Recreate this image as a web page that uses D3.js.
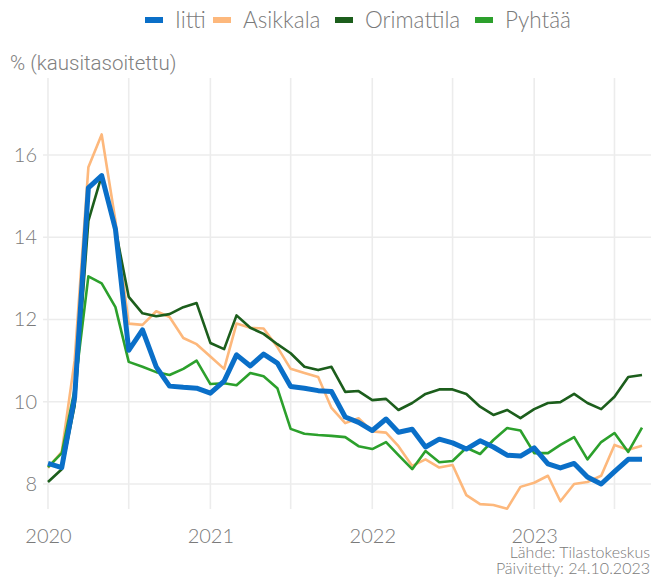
<!DOCTYPE html>
<html>
<head>
<meta charset="utf-8">
<script src="https://cdn.jsdelivr.net/npm/d3@7"></script>
<style>
  body { margin: 0; background: #fff; }
  svg { display: block; }
</style>
</head>
<body>
<div id="chart"></div>
<script>
// monthly, Jan 2020 .. Sep 2023
const months = d3.range(45).map(i => new Date(2020, i, 1));

const iitti = [8.5, 8.4, 10.1, 15.2, 15.5, 14.2, 11.25, 11.75, 10.85, 10.38, 10.35, 10.33, 10.21, 10.5, 11.14, 10.87,
  11.16, 10.94, 10.37, 10.33, 10.27, 10.25, 9.63, 9.5, 9.3, 9.58, 9.26, 9.33, 8.9, 9.09, 9.0, 8.85,
  9.05, 8.9, 8.7, 8.68, 8.88, 8.49, 8.39, 8.5, 8.17, 8.0, 8.3, 8.6, 8.6];
const asikkala = [8.39, 8.78, 11.0, 15.7, 16.5, 14.4, 11.9, 11.87, 12.2, 12.06, 11.55, 11.4, 11.1, 10.8, 11.9, 11.8,
  11.78, 11.33, 10.8, 10.7, 10.6, 9.85, 9.48, 9.6, 9.28, 9.25, 8.92, 8.44, 8.6, 8.4, 8.46, 7.73,
  7.51, 7.49, 7.4, 7.93, 8.03, 8.2, 7.58, 8.0, 8.05, 8.2, 8.95, 8.83, 8.93];
const orimattila = [8.05, 8.36, 9.9, 14.4, 15.5, 14.2, 12.55, 12.15, 12.08, 12.13, 12.3, 12.4, 11.43, 11.28, 12.1, 11.8,
  11.65, 11.4, 11.18, 10.85, 10.77, 10.85, 10.24, 10.26, 10.04, 10.07, 9.8, 9.97, 10.19, 10.3, 10.3, 10.19,
  9.88, 9.68, 9.8, 9.6, 9.82, 9.97, 9.99, 10.19, 9.97, 9.82, 10.12, 10.6, 10.65];
const pyhtaa = [8.41, 8.75, 10.3, 13.05, 12.88, 12.3, 10.97, 10.85, 10.72, 10.65, 10.8, 11.0, 10.43, 10.45, 10.4, 10.7,
  10.62, 10.33, 9.34, 9.22, 9.19, 9.17, 9.14, 8.92, 8.85, 9.02, 8.7, 8.36, 8.8, 8.53, 8.56, 8.88,
  8.73, 9.07, 9.36, 9.3, 8.75, 8.75, 8.95, 9.14, 8.6, 9.02, 9.24, 8.78, 9.37];

const seriesNames = ["Iitti", "Asikkala", "Orimattila", "Pyhtää"];
const seriesValues = [iitti, asikkala, orimattila, pyhtaa];
const colors = ["#0a6fc8", "#fdb87c", "#1c5e1c", "#2ca02c"];
const widths = [5, 2.6, 2.6, 2.6];

const yTicks = [8, 10, 12, 14, 16];
const xTickYears = [2020, 2021, 2022, 2023];

const W = 651, H = 578;
const margin = { top: 78, right: 9, bottom: 69, left: 48 };

const svg = d3.select("#chart").append("svg")
  .attr("width", W).attr("height", H)
  .style("font-family", "Lato, 'Open Sans', sans-serif");

const x = d3.scaleTime()
  .domain([months[0], months[months.length - 1]])
  .range([margin.left, W - margin.right]);

const y = d3.scaleLinear()
  .domain([8, 16])
  .range([484, 155]);

// gridlines
const grid = svg.append("g");
const halfYears = d3.timeMonth.every(6).range(new Date(2020, 0, 1), new Date(2024, 0, 1));
grid.selectAll("line.v").data(halfYears).enter().append("line")
  .attr("x1", d => x(d)).attr("x2", d => x(d))
  .attr("y1", margin.top).attr("y2", H - margin.bottom)
  .attr("stroke", "#ececec").attr("stroke-width", 1.6);
grid.selectAll("line.h").data(yTicks).enter().append("line")
  .attr("x1", 43).attr("x2", W)
  .attr("y1", d => y(d)).attr("y2", d => y(d))
  .attr("stroke", "#ececec").attr("stroke-width", 1.6);

// y axis labels
const yAxis = d3.axisLeft(y).tickValues(yTicks).tickSize(0).tickPadding(0);
svg.append("g")
  .attr("transform", "translate(37,0)")
  .call(yAxis)
  .call(g => g.select(".domain").remove())
  .selectAll("text")
  .attr("fill", "#7a7a7a")
  .attr("font-size", 20)
  .attr("font-weight", 300)
  .attr("font-family", "Lato, sans-serif");

// x axis labels
const xAxis = d3.axisBottom(x)
  .tickValues(xTickYears.map(yr => new Date(yr, 0, 1)))
  .tickFormat(d3.timeFormat("%Y"))
  .tickSize(0).tickPadding(0);
svg.append("g")
  .attr("transform", "translate(0,529)")
  .call(xAxis)
  .call(g => g.select(".domain").remove())
  .selectAll("text")
  .attr("fill", "#7a7a7a")
  .attr("font-size", 20)
  .attr("font-weight", 300)
  .attr("font-family", "Lato, sans-serif");

// lines (draw thin ones first, Iitti on top)
const line = d3.line()
  .x((d, i) => x(months[i]))
  .y(d => y(d));
[1, 2, 3, 0].forEach(k => {
  svg.append("path")
    .datum(seriesValues[k])
    .attr("fill", "none")
    .attr("stroke", colors[k])
    .attr("stroke-width", widths[k])
    .attr("stroke-linejoin", "round")
    .attr("d", line);
});

// y title
svg.append("text")
  .attr("x", 10).attr("y", 70)
  .attr("fill", "#808080")
  .attr("font-size", 20.5)
  .attr("font-weight", 300)
  .attr("font-family", "Roboto, 'Liberation Sans', sans-serif")
  .text("% (kausitasoitettu)");

// legend
const legendX = [145, 213, 335, 475];
const leg = svg.append("g");
seriesNames.forEach((name, i) => {
  leg.append("rect")
    .attr("x", legendX[i]).attr("y", 17)
    .attr("width", 18).attr("height", 6)
    .attr("fill", colors[i]);
  leg.append("text")
    .attr("x", legendX[i] + 30).attr("y", 28)
    .attr("fill", "#7a7a7a")
    .attr("font-size", 22.5)
    .attr("font-weight", 300)
    .attr("font-family", "Lato, sans-serif")
    .text(name);
});

// caption
svg.append("text")
  .attr("x", 650).attr("y", 558)
  .attr("text-anchor", "end")
  .attr("fill", "#7a7a7a")
  .attr("font-size", 16)
  .attr("font-weight", 300)
  .attr("font-family", "Lato, sans-serif")
  .text("Lähde: Tilastokeskus");
svg.append("text")
  .attr("x", 650).attr("y", 574)
  .attr("text-anchor", "end")
  .attr("fill", "#7a7a7a")
  .attr("font-size", 16)
  .attr("font-weight", 300)
  .attr("font-family", "Lato, sans-serif")
  .text("Päivitetty: 24.10.2023");
</script>
</body>
</html>
